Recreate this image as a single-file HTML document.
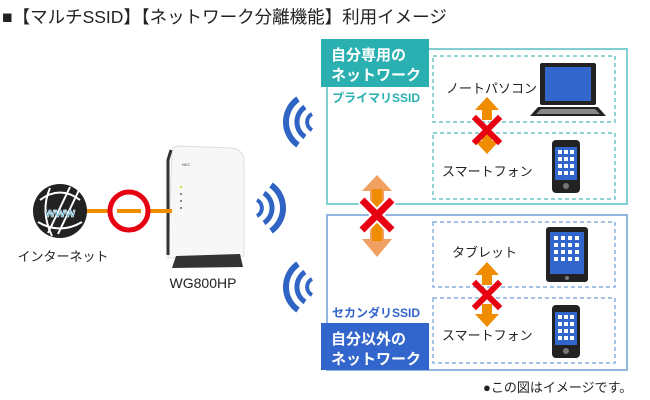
<!DOCTYPE html>
<html><head><meta charset="utf-8"><style>
html,body{margin:0;padding:0;background:#fff;}
svg{display:block;}
text{font-family:"Liberation Sans","Noto Sans CJK JP",sans-serif;}
</style></head><body>
<svg width="650" height="400" viewBox="0 0 650 400" xmlns="http://www.w3.org/2000/svg">
<defs>
<g id="upArrow"><polygon points="0,-13 -12,0 -5,0 -5,10 5,10 5,0 12,0"/></g>
<g id="xmark"><path d="M-11,-11 L11,11 M11,-11 L-11,11" stroke="#e60012" stroke-width="6" stroke-linecap="square"/></g>
</defs>
<text x="2" y="23" font-size="17.5" fill="#222">■【マルチSSID】【ネットワーク分離機能】利用イメージ</text>

<!-- primary box -->
<rect x="327" y="49" width="300" height="155" fill="none" stroke="#7fcfd0" stroke-width="2"/>
<rect x="433" y="56" width="182" height="66" fill="none" stroke="#6cc6c8" stroke-width="1.5" stroke-dasharray="4,3"/>
<rect x="433" y="133" width="182" height="66" fill="none" stroke="#6cc6c8" stroke-width="1.5" stroke-dasharray="4,3"/>
<rect x="321" y="39" width="108" height="48" fill="#2ab0b0"/>
<text x="331" y="60" font-size="15" font-weight="bold" fill="#fff">自分専用の</text>
<text x="331" y="80" font-size="15" font-weight="bold" fill="#fff">ネットワーク</text>
<text x="332" y="102" font-size="12" font-weight="bold" fill="#2ab0b0">プライマリSSID</text>

<!-- secondary box -->
<rect x="327" y="215" width="300" height="155" fill="none" stroke="#93b5e0" stroke-width="2"/>
<rect x="433" y="222" width="182" height="65" fill="none" stroke="#8ab0e0" stroke-width="1.5" stroke-dasharray="4,3"/>
<rect x="433" y="298" width="182" height="65" fill="none" stroke="#8ab0e0" stroke-width="1.5" stroke-dasharray="4,3"/>
<text x="332" y="317" font-size="12" font-weight="bold" fill="#3366cc">セカンダリSSID</text>
<rect x="321" y="323" width="108" height="47" fill="#3366cc"/>
<text x="331" y="344" font-size="15" font-weight="bold" fill="#fff">自分以外の</text>
<text x="331" y="364" font-size="15" font-weight="bold" fill="#fff">ネットワーク</text>

<!-- device labels -->
<text x="446" y="93" font-size="13" fill="#222">ノートパソコン</text>
<text x="442" y="176" font-size="13" fill="#222">スマートフォン</text>
<text x="452" y="257" font-size="13" fill="#222">タブレット</text>
<text x="442" y="340" font-size="13" fill="#222">スマートフォン</text>

<!-- laptop -->
<rect x="540" y="63" width="56" height="42" rx="2" fill="#222"/>
<rect x="545" y="67" width="46" height="34" fill="#3366cc"/>
<polygon points="538,107 598,107 606,116 530,116" fill="#222"/>
<polygon points="541,109 595,109 600,114 536,114" fill="#888"/>
<!-- phones -->
<g>
<rect x="552" y="140" width="28" height="53" rx="4" fill="#222"/>
<rect x="555" y="147" width="22" height="33" fill="#3366cc"/>
<circle cx="566" cy="186" r="3" fill="#777"/>
</g>
<g>
<rect x="552" y="305" width="28" height="53" rx="4" fill="#222"/>
<rect x="555" y="312" width="22" height="33" fill="#3366cc"/>
<circle cx="566" cy="351" r="3" fill="#777"/>
</g>
<!-- tablet -->
<rect x="546" y="227" width="42" height="55" rx="3" fill="#222"/>
<rect x="550" y="232" width="34" height="42" fill="#3366cc"/>
<circle cx="567" cy="278" r="2" fill="#777"/>
<!-- grid dots -->
<g fill="#fff">
<rect x="558" y="150" width="4" height="4"/><rect x="564" y="150" width="4" height="4"/><rect x="570" y="150" width="4" height="4"/>
<rect x="558" y="157" width="4" height="4"/><rect x="564" y="157" width="4" height="4"/><rect x="570" y="157" width="4" height="4"/>
<rect x="558" y="164" width="4" height="4"/><rect x="564" y="164" width="4" height="4"/><rect x="570" y="164" width="4" height="4"/>
<rect x="558" y="171" width="4" height="4"/><rect x="564" y="171" width="4" height="4"/><rect x="570" y="171" width="4" height="4"/>
<rect x="558" y="315" width="4" height="4"/><rect x="564" y="315" width="4" height="4"/><rect x="570" y="315" width="4" height="4"/>
<rect x="558" y="322" width="4" height="4"/><rect x="564" y="322" width="4" height="4"/><rect x="570" y="322" width="4" height="4"/>
<rect x="558" y="329" width="4" height="4"/><rect x="564" y="329" width="4" height="4"/><rect x="570" y="329" width="4" height="4"/>
<rect x="558" y="336" width="4" height="4"/><rect x="564" y="336" width="4" height="4"/><rect x="570" y="336" width="4" height="4"/>
<rect x="554" y="236" width="4" height="4"/><rect x="561" y="236" width="4" height="4"/><rect x="568" y="236" width="4" height="4"/><rect x="575" y="236" width="4" height="4"/>
<rect x="554" y="243" width="4" height="4"/><rect x="561" y="243" width="4" height="4"/><rect x="568" y="243" width="4" height="4"/><rect x="575" y="243" width="4" height="4"/>
<rect x="554" y="250" width="4" height="4"/><rect x="561" y="250" width="4" height="4"/><rect x="568" y="250" width="4" height="4"/><rect x="575" y="250" width="4" height="4"/>
<rect x="554" y="257" width="4" height="4"/><rect x="561" y="257" width="4" height="4"/><rect x="568" y="257" width="4" height="4"/><rect x="575" y="257" width="4" height="4"/>
</g>

<!-- small arrows -->
<g fill="#f08c00">
<use href="#upArrow" transform="translate(487,110)"/>
<use href="#upArrow" transform="translate(487,141) rotate(180)"/>
<use href="#upArrow" transform="translate(487,275)"/>
<use href="#upArrow" transform="translate(487,314) rotate(180)"/>
</g>
<use href="#xmark" transform="translate(487,130)"/>
<use href="#xmark" transform="translate(487,295)"/>
<!-- big middle arrow -->
<g fill="#f0a060">
<polygon points="377,175 362,191 370,191 370,239 362,239 377,257 392,239 384,239 384,191 392,191"/>
</g>
<rect x="372" y="189" width="10" height="52" fill="#f08c00"/>
<path d="M362,200 L392,230 M392,200 L362,230" stroke="#fff" stroke-width="11"/>
<path d="M362,200 L392,230 M392,200 L362,230" stroke="#e60012" stroke-width="7"/>

<!-- wifi -->
<g fill="none" stroke="#2f64c4" stroke-linecap="butt">
<path d="M312,114 A9,9 0 0 0 312,130" stroke-width="4"/>
<path d="M305,107 A18,18 0 0 0 305,137" stroke-width="5"/>
<path d="M298,99 A28,28 0 0 0 298,145" stroke-width="6"/>
<path d="M312,279 A9,9 0 0 0 312,295" stroke-width="4"/>
<path d="M305,272 A18,18 0 0 0 305,302" stroke-width="5"/>
<path d="M298,264 A28,28 0 0 0 298,310" stroke-width="6"/>
<path d="M257,200 A9,9 0 0 1 257,216" stroke-width="4"/>
<path d="M264,193 A18,18 0 0 1 264,223" stroke-width="5"/>
<path d="M271,185 A28,28 0 0 1 271,231" stroke-width="6"/>
</g>

<!-- router -->
<path d="M172,152 Q172,146 180,146 L232,148 Q244,150 244,162 L244,256 L168,258 Z" fill="#f7f7f7" stroke="#ddd"/>
<path d="M171,150 L168,160 L168,255" stroke="#333" stroke-width="3" fill="none"/>
<polygon points="172,268 176,256 240,254 243,267" fill="#333"/>
<text x="182" y="166" font-size="4" fill="#555">NEC</text>
<circle cx="181" cy="187" r="1" fill="#bd0"/>
<circle cx="181" cy="194" r="1" fill="#666"/><circle cx="181" cy="201" r="1" fill="#666"/><circle cx="181" cy="208" r="1" fill="#666"/>

<!-- internet -->
<line x1="86" y1="211" x2="172" y2="211" stroke="#f08c00" stroke-width="4"/>
<circle cx="129" cy="211" r="19" fill="#fff" stroke="#e60012" stroke-width="5"/>
<line x1="117" y1="211" x2="141" y2="211" stroke="#f08c00" stroke-width="4"/>
<circle cx="60" cy="211" r="27" fill="#222"/>
<path d="M40,200 Q60,185 80,200 M38,222 Q60,235 82,222 M50,188 Q40,211 52,236 M70,187 L48,233 M80,188 L58,234" stroke="#fff" stroke-width="2" fill="none"/>
<text x="60" y="217" font-size="13" font-weight="bold" fill="#3a9bc0" text-anchor="middle" stroke="#fff" stroke-width="0.6">www</text>
<text x="63" y="261" font-size="13" fill="#222" text-anchor="middle">インターネット</text>
<text x="203" y="288" font-size="14" fill="#222" text-anchor="middle">WG800HP</text>

<text x="483" y="392" font-size="13" fill="#222">●この図はイメージです。</text>
</svg>
</body></html>
